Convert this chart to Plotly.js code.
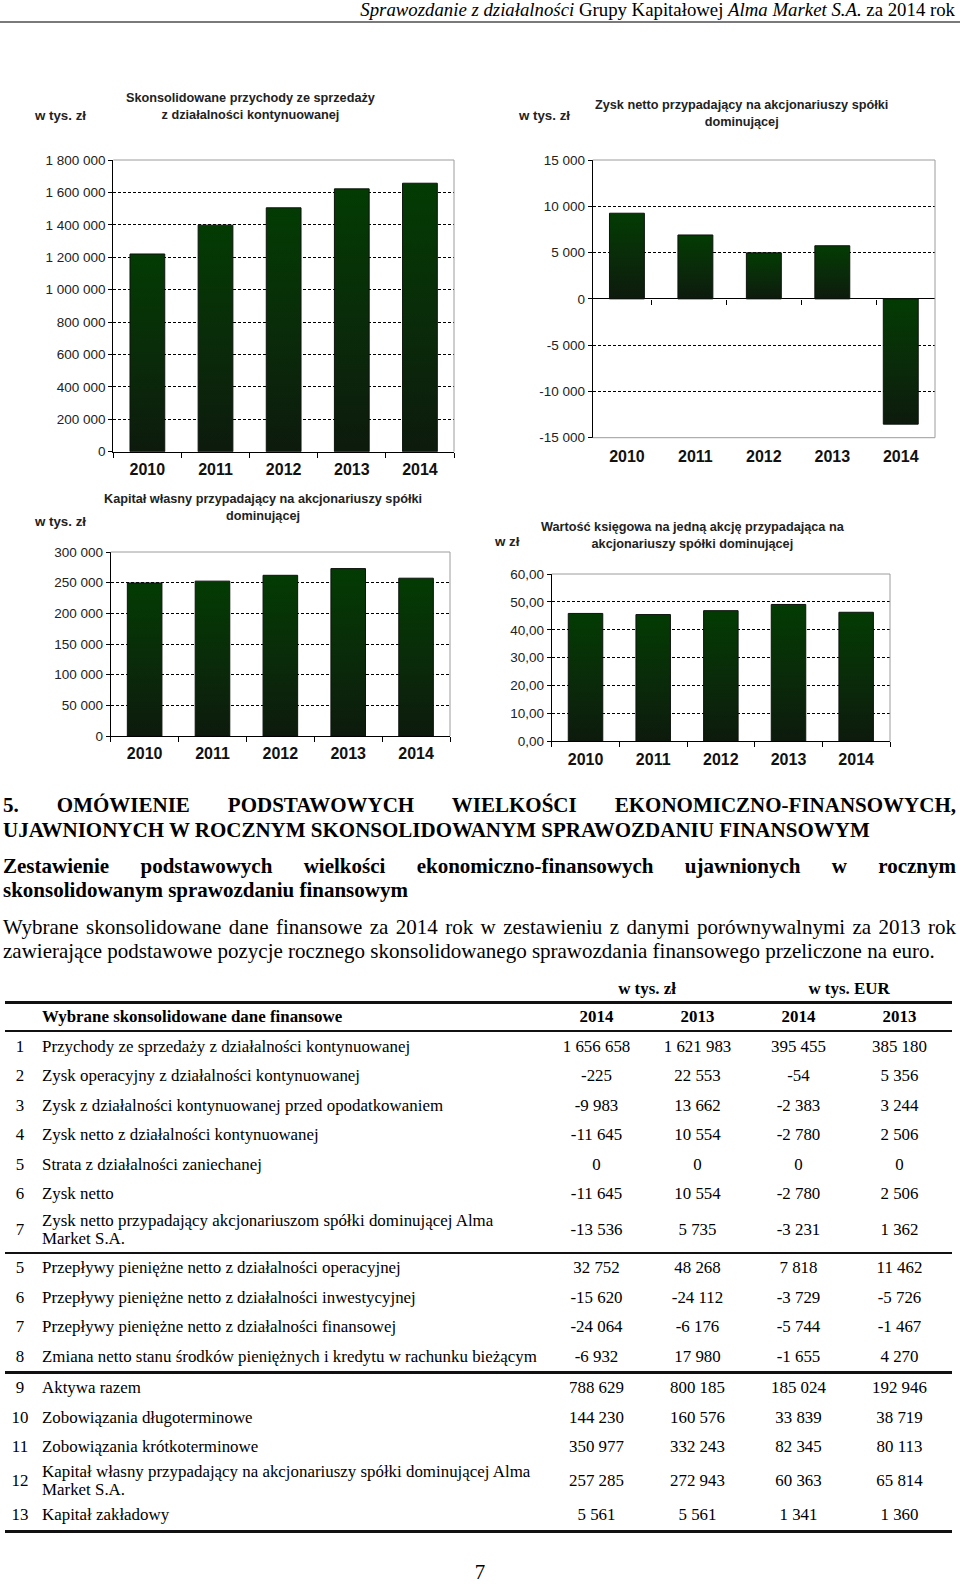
<!DOCTYPE html>
<html>
<head>
<meta charset="utf-8">
<script src="https://cdn.plot.ly/plotly-3.0.1.min.js"></script>
<style>
  body { margin: 0; background: #fff; }
  #page { position: relative; width: 960px; height: 1585px; overflow: hidden; font-family: "Liberation Serif", "Times New Roman", serif; color: #000; background: #fff; }
  #charts { position: absolute; left: 0; top: 0; width: 960px; height: 780px; }
  .abs { position: absolute; white-space: nowrap; }
  #hdr { right: 5px; top: 0px; font-size: 18.8px; line-height: 20px; }
  #hline { left: 0; top: 21px; width: 960px; height: 2px; background: #7a7a7a; }
  .jline { position: absolute; left: 3px; width: 953px; line-height: 24px; white-space: nowrap; }
  .just { text-align: justify; text-align-last: justify; white-space: normal; }
  .big { font-size: 21px; }
  .b { font-weight: bold; }
  .row { position: absolute; left: 5px; width: 947px; display: flex; align-items: center; font-size: 16.9px; }
  .c0 { width: 30px; text-align: center; flex: none; }
  .c1 { width: 504px; padding-left: 7px; flex: none; white-space: pre-line; line-height: 18px; }
  .cn { width: 101px; text-align: center; flex: none; }
  .rule { position: absolute; left: 5px; width: 947px; background: #111; }
</style>
</head>
<body>
<div id="page">
  <div id="hdr" class="abs"><i>Sprawozdanie z działalności</i> Grupy Kapitałowej <i>Alma Market S.A.</i> za 2014 rok</div>
  <div id="hline" class="abs"></div>
  <div id="charts"></div>
  <div id="textblock"></div>
  <div id="tableblock"></div>
  <div class="abs" style="left:0;width:960px;text-align:center;top:1559px;font-size:21px;line-height:26px;">7</div>
</div>
<script>
// ---------- chart data ----------
const years = ['2010', '2011', '2012', '2013', '2014'];
const revenue = [1220000, 1398000, 1505000, 1621983, 1656658];
const netProfit = [9250, 6900, 4970, 5735, -13536];
const equity = [249500, 252500, 262000, 272943, 257285];
const bookValue = [45.85, 45.45, 46.85, 49.08, 46.27];

const chartTitles = [
  'Skonsolidowane przychody ze sprzedaży<br>z działalności kontynuowanej',
  'Zysk netto przypadający na akcjonariuszy spółki<br>dominującej',
  'Kapitał własny przypadający na akcjonariuszy spółki<br>dominującej',
  'Wartość księgowa na jedną akcję przypadająca na<br>akcjonariuszy spółki dominującej'
];
const unitLabels = ['w tys. zł', 'w tys. zł', 'w tys. zł', 'w zł'];
const profitTickVals = [-15000, -10000, -5000, 0, 5000, 10000, 15000];
const profitTickText = ['-15 000', '-10 000', '-5 000', '0', '5 000', '10 000', '15 000'];

// ---------- table data ----------
const rowNums = ['1','2','3','4','5','6','7','5','6','7','8','9','10','11','12','13'];
const rowLabels = [
  'Przychody ze sprzedaży z działalności kontynuowanej',
  'Zysk operacyjny z działalności kontynuowanej',
  'Zysk z działalności kontynuowanej przed opodatkowaniem',
  'Zysk netto z działalności kontynuowanej',
  'Strata z działalności zaniechanej',
  'Zysk netto',
  'Zysk netto przypadający akcjonariuszom spółki dominującej Alma\nMarket S.A.',
  'Przepływy pieniężne netto z działalności operacyjnej',
  'Przepływy pieniężne netto z działalności inwestycyjnej',
  'Przepływy pieniężne netto z działalności finansowej',
  'Zmiana netto stanu środków pieniężnych i kredytu w rachunku bieżącym',
  'Aktywa razem',
  'Zobowiązania długoterminowe',
  'Zobowiązania krótkoterminowe',
  'Kapitał własny przypadający na akcjonariuszy spółki dominującej Alma\nMarket S.A.',
  'Kapitał zakładowy'
];
const pln2014 = ['1 656 658','-225','-9 983','-11 645','0','-11 645','-13 536','32 752','-15 620','-24 064','-6 932','788 629','144 230','350 977','257 285','5 561'];
const pln2013 = ['1 621 983','22 553','13 662','10 554','0','10 554','5 735','48 268','-24 112','-6 176','17 980','800 185','160 576','332 243','272 943','5 561'];
const eur2014 = ['395 455','-54','-2 383','-2 780','0','-2 780','-3 231','7 818','-3 729','-5 744','-1 655','185 024','33 839','82 345','60 363','1 341'];
const eur2013 = ['385 180','5 356','3 244','2 506','0','2 506','1 362','11 462','-5 726','-1 467','4 270','192 946','38 719','80 113','65 814','1 360'];
const tableTitle = 'Wybrane skonsolidowane dane finansowe';
const colYears = ['2014', '2013', '2014', '2013'];
const unitHeads = ['w tys. zł', 'w tys. EUR'];

// ---------- chart layout ----------
const W = 960, H = 780;
const xd = (a, b) => [a / W, b / W];
const yd = (top, bottom) => [1 - bottom / H, 1 - top / H];
const px = v => v / W;
const py = v => 1 - v / H;

const boxes = [
  { x: xd(113.3, 454), y: yd(160, 451.7) },
  { x: xd(592.7, 935), y: yd(160, 437.7) },
  { x: xd(110.7, 450), y: yd(552, 736) },
  { x: xd(551.7, 890), y: yd(574, 741.3) }
];
const ranges = [[0, 1800000], [-15000, 15000], [0, 300000], [0, 60]];
const dticks = [200000, 5000, 50000, 10];
const formats = [',d', ',d', ',d', '.2f'];
const series = [revenue, netProfit, equity, bookValue];

const tickFontY = { family: 'Liberation Sans, Arial, sans-serif', size: 13.5, color: '#222' };
const tickFontX = { family: 'Liberation Sans, Arial, sans-serif', size: 16, color: '#111', weight: 'bold' };
const barColor = '#053005';

const data = [];
const layout = {
  width: W, height: H,
  margin: { l: 0, r: 0, t: 0, b: 0 },
  paper_bgcolor: 'rgba(0,0,0,0)', plot_bgcolor: 'rgba(0,0,0,0)',
  showlegend: false, separators: ', ', bargap: 0.49,
  annotations: [], shapes: []
};

const ids = ['', '2', '3', '4'];
for (let i = 0; i < 4; i++) {
  const xa = 'xaxis' + ids[i], ya = 'yaxis' + ids[i];
  const xr = 'x' + ids[i], yr = 'y' + ids[i];
  data.push({
    type: 'bar', x: years, y: series[i], xaxis: xr, yaxis: yr,
    marker: { color: barColor, line: { color: '#0c140c', width: 1 } },
    hoverinfo: 'skip'
  });
  const neg = ranges[i][0] < 0;
  layout[xa] = {
    domain: boxes[i].x, anchor: yr, type: 'category',
    showline: !neg, linecolor: '#000', linewidth: 1,
    ticks: neg ? '' : 'outside', tickson: 'boundaries', ticklen: 5, tickcolor: '#000',
    showgrid: false, zeroline: false, tickfont: tickFontX,
    ticklabelstandoff: neg ? 7 : 3, fixedrange: true
  };
  layout[ya] = {
    domain: boxes[i].y, anchor: xr, range: ranges[i], dtick: dticks[i], tick0: 0,
    tickformat: formats[i], showline: true, linecolor: '#000', linewidth: 1,
    ticks: 'outside', ticklen: 4, tickcolor: '#000',
    showgrid: true, gridcolor: '#000', gridwidth: 1, griddash: '3px,2px',
    zeroline: neg, zerolinecolor: '#000', zerolinewidth: 1,
    tickfont: tickFontY, fixedrange: true
  };
  if (neg) {
    layout[ya].tickmode = 'array';
    layout[ya].tickvals = profitTickVals;
    layout[ya].ticktext = profitTickText;
  }
  // gray frame: top and right (plus bottom when axis sits at zero)
  const frame = [[0, 1, 1, 1], [1, 0, 1, 1]];
  if (neg) frame.push([0, 0, 1, 0]);
  frame.forEach(f => layout.shapes.push({
    type: 'line', xref: xr + ' domain', yref: yr + ' domain',
    x0: f[0], y0: f[1], x1: f[2], y1: f[3],
    line: { color: '#9c9c9c', width: 1 }, layer: 'above'
  }));
}

// tick marks along zero line for the profit chart
const y2dom = boxes[1].y;
const zeroPos = y2dom[0] + (0 - ranges[1][0]) / (ranges[1][1] - ranges[1][0]) * (y2dom[1] - y2dom[0]);
data.push({ type: 'scatter', mode: 'markers', x: years, y: netProfit, xaxis: 'x5', yaxis: 'y2',
  marker: { opacity: 0 }, hoverinfo: 'skip' });
layout.xaxis5 = {
  overlaying: 'x2', anchor: 'free', position: zeroPos, domain: boxes[1].x, side: 'bottom',
  type: 'category', showticklabels: false, ticks: 'outside', tickson: 'boundaries',
  ticklen: 5, tickcolor: '#000', showline: false, showgrid: false, zeroline: false, fixedrange: true
};

// titles and units
const titlePos = [[250, 107], [741.7, 113], [263, 507], [693, 535.5]];
const unitPos = [[32, 115], [516, 115], [32, 521], [492, 541]];
const annFont = { family: 'Liberation Sans, Arial, sans-serif', size: 12.7, color: '#222', weight: 'bold' };
const unitFont = { family: 'Liberation Sans, Arial, sans-serif', size: 13.3, color: '#222', weight: 'bold' };
for (let i = 0; i < 4; i++) {
  layout.annotations.push({
    xref: 'paper', yref: 'paper', x: px(titlePos[i][0]), y: py(titlePos[i][1]),
    xanchor: 'center', yanchor: 'middle', align: 'center', showarrow: false,
    text: chartTitles[i], font: annFont
  });
  layout.annotations.push({
    xref: 'paper', yref: 'paper', x: px(unitPos[i][0]), y: py(unitPos[i][1]),
    xanchor: 'left', yanchor: 'middle', showarrow: false,
    text: unitLabels[i], font: unitFont
  });
}

Plotly.newPlot('charts', data, layout, { staticPlot: true, displayModeBar: false }).then(() => {
  const svg = document.querySelector('#charts .main-svg');
  const NS = 'http://www.w3.org/2000/svg';
  let defs = svg.querySelector('defs');
  if (!defs) { defs = document.createElementNS(NS, 'defs'); svg.insertBefore(defs, svg.firstChild); }
  const g = document.createElementNS(NS, 'linearGradient');
  g.setAttribute('id', 'barGrad'); g.setAttribute('x1', '0'); g.setAttribute('y1', '0');
  g.setAttribute('x2', '0'); g.setAttribute('y2', '1');
  [['0', '#033b03'], ['0.55', '#0a2a0a'], ['1', '#0d1a0d']].forEach(s => {
    const st = document.createElementNS(NS, 'stop');
    st.setAttribute('offset', s[0]); st.setAttribute('stop-color', s[1]);
    g.appendChild(st);
  });
  defs.appendChild(g);
  document.querySelectorAll('#charts .barlayer .point path').forEach(p => { p.style.fill = 'url(#barGrad)'; });
});

// ---------- text block ----------
const textLines = [
  { t: '5.  OMÓWIENIE PODSTAWOWYCH WIELKOŚCI EKONOMICZNO-FINANSOWYCH,', y: 805, b: true, j: true },
  { t: 'UJAWNIONYCH W ROCZNYM SKONSOLIDOWANYM SPRAWOZDANIU FINANSOWYM', y: 830, b: true, j: false },
  { t: 'Zestawienie podstawowych wielkości ekonomiczno-finansowych ujawnionych w rocznym', y: 866, b: true, j: true },
  { t: 'skonsolidowanym sprawozdaniu finansowym', y: 890, b: true, j: false },
  { t: 'Wybrane skonsolidowane dane finansowe za 2014 rok w zestawieniu z danymi porównywalnymi za 2013 rok', y: 927, b: false, j: true },
  { t: 'zawierające podstawowe pozycje rocznego skonsolidowanego sprawozdania finansowego przeliczone na euro.', y: 951, b: false, j: false }
];
const tb = document.getElementById('textblock');
textLines.forEach(l => {
  const d = document.createElement('div');
  d.className = 'jline big' + (l.b ? ' b' : '') + (l.j ? ' just' : '');
  d.style.top = (l.y - 12) + 'px';
  d.textContent = l.t;
  tb.appendChild(d);
});

// ---------- table ----------
const tbl = document.getElementById('tableblock');
function addRule(top, h) {
  const r = document.createElement('div'); r.className = 'rule';
  r.style.top = top + 'px'; r.style.height = h + 'px'; tbl.appendChild(r);
}
function addRow(top, h, cells, bold) {
  const r = document.createElement('div'); r.className = 'row' + (bold ? ' b' : '');
  r.style.top = top + 'px'; r.style.height = h + 'px';
  const cls = ['c0', 'c1', 'cn', 'cn', 'cn', 'cn'];
  cells.forEach((c, k) => { const s = document.createElement('div'); s.className = cls[k]; s.textContent = c; r.appendChild(s); });
  tbl.appendChild(r);
}
// unit heads
const uh = document.createElement('div');
uh.className = 'row b'; uh.style.top = '977px'; uh.style.height = '24px';
['', ''].forEach((c, k) => { const s = document.createElement('div'); s.className = k ? 'c1' : 'c0'; uh.appendChild(s); });
unitHeads.forEach(u => { const s = document.createElement('div'); s.style.width = '202px'; s.style.textAlign = 'center'; s.textContent = u; uh.appendChild(s); });
tbl.appendChild(uh);

let y = 1001;
addRule(y, 3); y += 3;
addRow(y, 26, ['', tableTitle].concat(colYears), true); y += 26;
addRule(y, 2); y += 2;
const rowH = [29.5, 29.5, 29.5, 29.5, 29.5, 29.5, 41, 29.5, 29.5, 29.5, 29.5, 29.5, 29.5, 29.5, 38, 29.5];
const rulesAfter = { 6: [1.5, 2], 10: [-1, 3], 15: [0, 3] };
for (let i = 0; i < rowNums.length; i++) {
  addRow(y, rowH[i], [rowNums[i], rowLabels[i], pln2014[i], pln2013[i], eur2014[i], eur2013[i]], false);
  y += rowH[i];
  if (rulesAfter[i]) { y += rulesAfter[i][0]; addRule(y, rulesAfter[i][1]); y += rulesAfter[i][1]; }
}
</script>
</body>
</html>
